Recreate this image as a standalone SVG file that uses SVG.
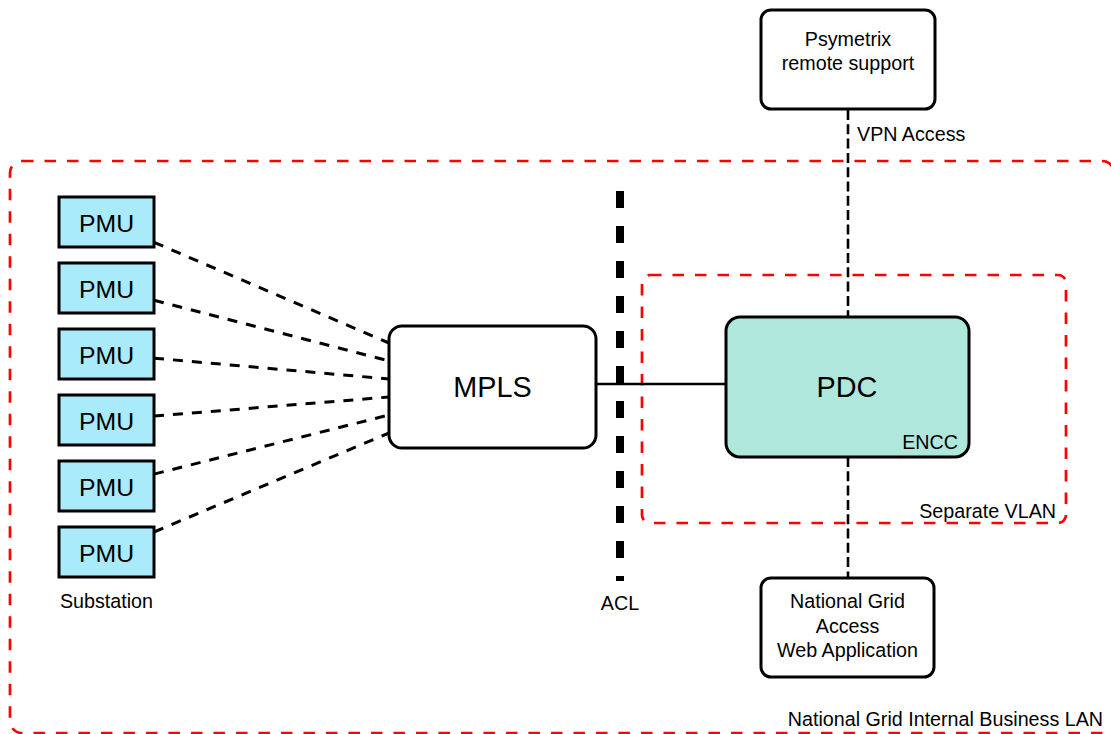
<svg xmlns="http://www.w3.org/2000/svg" width="1111" height="734" viewBox="0 0 1111 734">
<style>
text{font-family:"Liberation Sans",Arial,sans-serif;fill:#000}
.s{font-size:19.7px}
.m{font-size:24.8px}
.l{font-size:28.8px}
.c{text-anchor:middle}
.e{text-anchor:end}
.zone{fill:none;stroke:#ff0000;stroke-width:2.7;stroke-dasharray:11.5 11}
.pmu{fill:#aaebfb;stroke:#000;stroke-width:3}
.box{fill:#fff;stroke:#000;stroke-width:3}
.dl{fill:none;stroke:#000;stroke-width:3;stroke-dasharray:10 9}
.vl{fill:none;stroke:#000;stroke-width:2.6;stroke-dasharray:10 4.3}
</style>
<rect width="1111" height="734" fill="#fff"/>
<g id="zones">
<rect id="lan" class="zone" x="10" y="161" width="1104" height="572" rx="12"/>
<rect id="vlan" class="zone" x="642" y="275" width="424" height="248" rx="8"/>
</g>
<g id="connectors">
<line class="dl" x1="154" y1="242.3" x2="389" y2="343"/>
<line class="dl" x1="154" y1="300.3" x2="389" y2="361"/>
<line class="dl" x1="154" y1="358.2" x2="389" y2="379"/>
<line class="dl" x1="154" y1="416.1" x2="389" y2="397"/>
<line class="dl" x1="154" y1="474.1" x2="389" y2="415"/>
<line class="dl" x1="154" y1="532" x2="389" y2="433"/>
<line x1="596" y1="384" x2="726" y2="384" stroke="#000" stroke-width="2.5"/>
<line class="vl" x1="848" y1="110" x2="848" y2="317"/>
<line class="vl" x1="848" y1="457" x2="848" y2="578"/>
</g>
<g id="acl">
<line x1="620" y1="191" x2="620" y2="581" stroke="#000" stroke-width="8" stroke-dasharray="17 18"/>
<text class="s c" x="620" y="610">ACL</text>
</g>
<g id="pmu1"><rect class="pmu" x="59" y="197" width="95" height="50"/><text class="m c" x="106.5" y="231.5">PMU</text></g>
<g id="pmu2"><rect class="pmu" x="59" y="263" width="95" height="50"/><text class="m c" x="106.5" y="297.5">PMU</text></g>
<g id="pmu3"><rect class="pmu" x="59" y="329" width="95" height="50"/><text class="m c" x="106.5" y="363.5">PMU</text></g>
<g id="pmu4"><rect class="pmu" x="59" y="395" width="95" height="50"/><text class="m c" x="106.5" y="429.5">PMU</text></g>
<g id="pmu5"><rect class="pmu" x="59" y="461" width="95" height="50"/><text class="m c" x="106.5" y="495.5">PMU</text></g>
<g id="pmu6"><rect class="pmu" x="59" y="527" width="95" height="50"/><text class="m c" x="106.5" y="561.5">PMU</text></g>
<g id="substation-label"><text class="s c" x="106.5" y="608">Substation</text></g>
<g id="mpls"><rect class="box" x="389" y="326" width="207" height="122" rx="13"/><text class="l c" x="492.5" y="397">MPLS</text></g>
<g id="pdc"><rect x="726" y="317" width="243" height="140" rx="14" fill="#afe7dd" stroke="#000" stroke-width="3"/><text class="l c" x="847" y="397">PDC</text><text class="s e" x="958" y="449">ENCC</text></g>
<g id="psymetrix"><rect class="box" x="761" y="10" width="174" height="99" rx="10"/><text class="s c" x="848" y="45.5">Psymetrix</text><text class="s c" x="848" y="69.5">remote support</text></g>
<g id="vpn-label"><text class="s" x="857" y="141">VPN Access</text></g>
<g id="ngweb"><rect class="box" x="761" y="578" width="173" height="99" rx="10"/><text class="s c" x="847.5" y="608">National Grid</text><text class="s c" x="847.5" y="632.5">Access</text><text class="s c" x="847.5" y="657">Web Application</text></g>
<g id="labels"><text class="s e" x="1056" y="518">Separate VLAN</text><text class="s e" x="1103" y="726">National Grid Internal Business LAN</text></g>
</svg>
